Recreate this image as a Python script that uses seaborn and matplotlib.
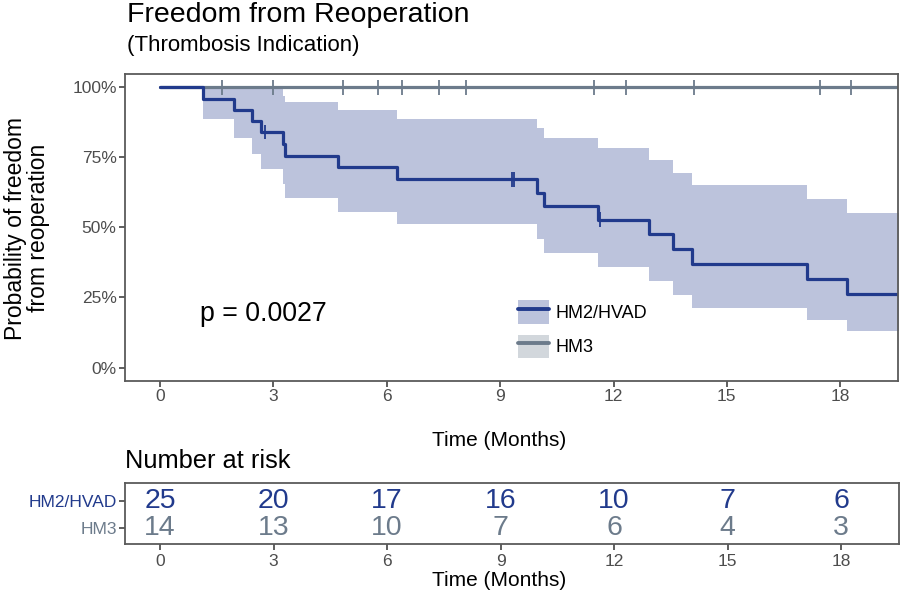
import numpy as np
import pandas as pd
import matplotlib
matplotlib.use("Agg")
import matplotlib.pyplot as plt
import seaborn as sns
from matplotlib.patches import Patch
from matplotlib.lines import Line2D
from matplotlib.ticker import PercentFormatter

# ------------------------------------------------------------
# Data (Kaplan-Meier, months)
# ------------------------------------------------------------
groups = ["HM2/HVAD", "HM3"]
colors = {"HM2/HVAD": "#213a8c", "HM3": "#6c7b8b"}

hm2_time = [0, 1.13, 1.96, 2.42, 2.66, 3.24, 3.30, 4.72, 6.26, 9.98, 10.16,
            11.60, 12.94, 13.58, 14.07, 17.13, 18.17, 19.6]
hm2_surv = [1.00, 0.96, 0.92, 0.88, 0.84, 0.798, 0.756, 0.714, 0.672, 0.624,
            0.576, 0.528, 0.475, 0.422, 0.370, 0.317, 0.264, 0.264]
hm2_upper = [1.00, 1.00, 1.00, 1.00, 1.00, 0.97, 0.949, 0.919, 0.888, 0.856,
             0.82, 0.782, 0.74, 0.695, 0.651, 0.60, 0.55, 0.55]
hm2_lower = [1.00, 0.888, 0.82, 0.763, 0.71, 0.656, 0.606, 0.556, 0.511, 0.46,
             0.407, 0.36, 0.308, 0.26, 0.213, 0.169, 0.13, 0.13]
hm2_censor = [2.78, 9.30, 9.37, 11.63]

hm3_time = [0, 19.6]
hm3_surv = [1.0, 1.0]
hm3_censor = [1.63, 3.0, 4.85, 5.76, 6.41, 7.38, 8.10, 11.48, 12.33, 14.13,
              17.46, 18.28]

risk_times = [0, 3, 6, 9, 12, 15, 18]
risk_hm2 = [25, 20, 17, 16, 10, 7, 6]
risk_hm3 = [14, 13, 10, 7, 6, 4, 3]

p_text = "p = 0.0027"

# ------------------------------------------------------------
# Style
# ------------------------------------------------------------
sns.set_theme(style="white")
plt.rcParams['font.family'] = ['Liberation Sans', 'DejaVu Sans']
plt.rcParams['text.color'] = 'black'
TICK_GRAY = "#4d4d4d"
SPINE = "#5a5a5a"

curves = pd.concat([
    pd.DataFrame({"time": hm2_time, "surv": hm2_surv, "group": "HM2/HVAD"}),
    pd.DataFrame({"time": hm3_time, "surv": hm3_surv, "group": "HM3"}),
])


def surv_at(times, survs, t):
    i = np.searchsorted(times, t, side="right") - 1
    return survs[i]


cens = pd.concat([
    pd.DataFrame({"time": hm2_censor,
                  "surv": [surv_at(hm2_time, hm2_surv, t) for t in hm2_censor],
                  "group": "HM2/HVAD"}),
    pd.DataFrame({"time": hm3_censor,
                  "surv": [surv_at(hm3_time, hm3_surv, t) for t in hm3_censor],
                  "group": "HM3"}),
])

fig = plt.figure(figsize=(9, 5.96), dpi=100)
ax = fig.add_axes([125 / 900, 1 - 381 / 596, 773 / 900, 307 / 596])
ax2 = fig.add_axes([125 / 900, 1 - 544.3 / 596, 774 / 900, 61.6 / 596])

XLIM = (-0.93, 19.53)

# confidence band
ax.fill_between(hm2_time, hm2_lower, hm2_upper, step="post",
                color=colors["HM2/HVAD"], alpha=0.3, linewidth=0)

sns.lineplot(data=curves, x="time", y="surv", hue="group", palette=colors,
             hue_order=groups[::-1], drawstyle="steps-post", estimator=None,
             sort=False, linewidth=2.3, legend=False, ax=ax)
sns.scatterplot(data=cens, x="time", y="surv", hue="group", palette=colors,
                marker="|", s=110, linewidth=1.3, legend=False, ax=ax, zorder=5)

ax.set_xlim(*XLIM)
ax.set_ylim(-0.048, 1.0475)
ax.set_xticks(risk_times)
ax.set_yticks([0, 0.25, 0.5, 0.75, 1.0])
ax.yaxis.set_major_formatter(PercentFormatter(1.0, decimals=0))
ax.set_xlabel("")
ax.set_ylabel("")
ax.tick_params(axis="both", labelsize=12.5, labelcolor=TICK_GRAY, length=4,
               width=1.1, color="#333333", bottom=True, left=True, pad=2)
for s in ax.spines.values():
    s.set_color(SPINE)
    s.set_linewidth(1.3)

ax.text(1.06, 0.19, p_text, fontsize=19.3, ha="left", va="center")

handles = []
for g in groups:
    handles.append((Patch(facecolor=colors[g], alpha=0.3, edgecolor="none"),
                    Line2D([], [], color=colors[g], linewidth=2.8)))
ax.legend(handles, groups, loc="center left", bbox_to_anchor=(0.508, 0.169),
          frameon=False, fontsize=13, handlelength=1.75, handleheight=1.6,
          handletextpad=0.35, labelspacing=0.62, borderpad=0,
          borderaxespad=0)

# titles and axis labels
fig.text(127 / 900, 1 - 15 / 596, "Freedom from Reoperation", fontsize=20.5,
         ha="left", va="center")
fig.text(127 / 900, 1 - 46 / 596, "(Thrombosis Indication)", fontsize=16,
         ha="left", va="center")
fig.text(27 / 900, 1 - 228 / 596, "Probability of freedom\nfrom reoperation",
         fontsize=16.5, rotation=90, ha="center", va="center",
         multialignment="center", linespacing=1.05)
fig.text(499 / 900, 1 - 440 / 596, "Time (Months)", fontsize=15,
         ha="center", va="center")

# ------------------------------------------------------------
# Number at risk table
# ------------------------------------------------------------
risk = pd.DataFrame({
    "time": risk_times * 2,
    "n": risk_hm2 + risk_hm3,
    "group": ["HM2/HVAD"] * len(risk_times) + ["HM3"] * len(risk_times),
})
ypos = {"HM2/HVAD": 2, "HM3": 1}
for _, r in risk.iterrows():
    ax2.text(r["time"], ypos[r["group"]], str(r["n"]), ha="center",
             va="center", fontsize=20.5, color=colors[r["group"]])

ax2.set_xlim(*XLIM)
ax2.set_ylim(0.42, 2.65)
ax2.set_xticks(risk_times)
ax2.set_yticks([ypos[g] for g in groups])
ax2.set_yticklabels(groups)
for lbl, g in zip(ax2.get_yticklabels(), groups):
    lbl.set_color(colors[g])
ax2.tick_params(axis="x", labelsize=12.5, labelcolor=TICK_GRAY, length=4,
                width=1.1, color="#333333", bottom=True, pad=3)
ax2.tick_params(axis="y", labelsize=12.5, length=4, width=1.1,
                color="#333333", left=True, pad=2)
for s in ax2.spines.values():
    s.set_color(SPINE)
    s.set_linewidth(1.3)

fig.text(125 / 900, 1 - 461 / 596, "Number at risk", fontsize=18.3,
         ha="left", va="center")
fig.text(499 / 900, 1 - 581 / 596, "Time (Months)", fontsize=15,
         ha="center", va="center")

fig.savefig("out.png", dpi=100)
